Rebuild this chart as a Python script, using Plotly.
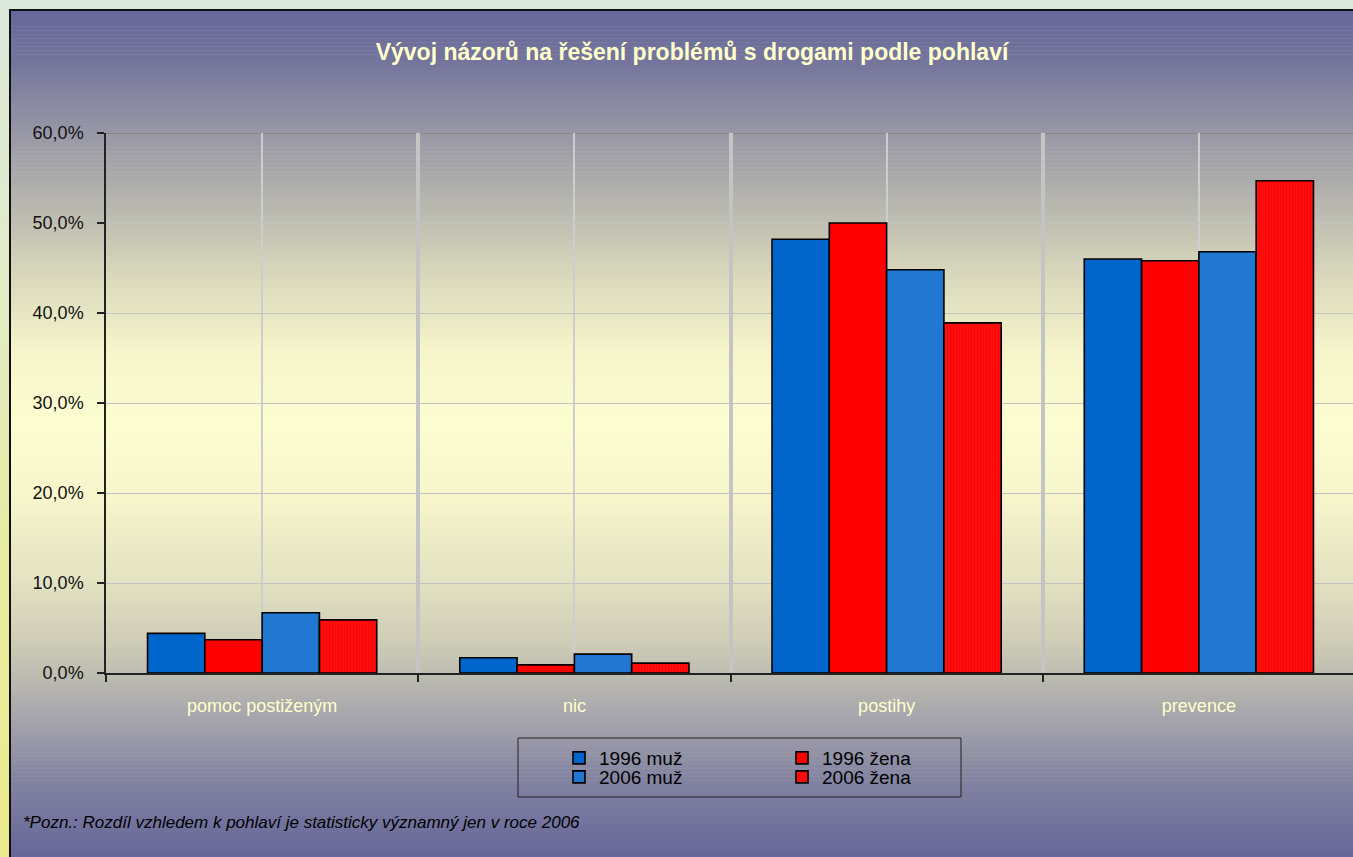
import plotly.graph_objects as go

categories = ["pomoc postiženým", "nic", "postihy", "prevence"]
series_names = ["1996 muž", "1996 žena", "2006 muž", "2006 žena"]
muz_1996 = [4.4, 1.7, 48.2, 46.0]
zena_1996 = [3.7, 0.9, 50.0, 45.8]
muz_2006 = [6.7, 2.1, 44.8, 46.8]
zena_2006 = [5.9, 1.1, 38.9, 54.7]
y_ticks = [0, 10, 20, 30, 40, 50, 60]
y_tick_labels = ["0,0%", "10,0%", "20,0%", "30,0%", "40,0%", "50,0%", "60,0%"]

title_text = "Vývoj názorů na řešení problémů s drogami podle pohlaví"
note_text = "*Pozn.: Rozdíl vzhledem k pohlaví je statisticky významný jen v roce 2006"

W, H = 1353, 857
L, T, R, B = 106, 133, 1353, 673  # plot area in px
PW, PH = R - L, B - T


def px2x(px):
    return (px - L) / PW


def py2y(py):
    return (B - py) / PH


def hex2rgb(h):
    h = h.lstrip("#")
    return tuple(int(h[i:i + 2], 16) for i in (0, 2, 4))


def interp(stops, p):
    for (p0, c0), (p1, c1) in zip(stops, stops[1:]):
        if p0 <= p <= p1:
            t = 0 if p1 == p0 else (p - p0) / (p1 - p0)
            a, b = hex2rgb(c0), hex2rgb(c1)
            return "rgb(%d,%d,%d)" % tuple(round(a[i] + (b[i] - a[i]) * t) for i in range(3))
    return stops[-1][1]


shapes = []
# outer background gradient
outer_stops = [(0, "#dce8dc"), (300, "#e3ecc6"), (550, "#e7eca2"), (857, "#eaea8c")]
n = 60
for i in range(n):
    y0 = i * H / n
    y1 = (i + 1) * H / n + 0.5
    shapes.append(dict(type="rect", xref="paper", yref="paper", layer="below",
                       x0=px2x(-2), x1=px2x(W + 5), y0=py2y(y0 - (2 if i == 0 else 0)), y1=py2y(y1),
                       fillcolor=interp(outer_stops, (y0 + y1) / 2), line_width=0))
# inner frame gradient
inner_stops = [(10, "#66669a"), (60, "#74749c"), (133, "#9797a6"), (200, "#b5b4ae"),
               (280, "#dbdabd"), (350, "#f5f4ca"), (420, "#fdfdd2"), (500, "#f6f5cc"),
               (580, "#e3e2c2"), (640, "#cfcdb7"), (680, "#bbbab0"), (720, "#a5a4ac"),
               (780, "#8383a2"), (857, "#66669a")]
n = 210
top = 10
for i in range(n):
    y0 = top + i * (H - top) / n
    y1 = top + (i + 1) * (H - top) / n + 0.5
    shapes.append(dict(type="rect", xref="paper", yref="paper", layer="below",
                       x0=px2x(10), x1=px2x(W + 5), y0=py2y(y0), y1=py2y(y1),
                       fillcolor=interp(inner_stops, (y0 + y1) / 2), line_width=0))
# frame border
shapes.append(dict(type="rect", xref="paper", yref="paper", layer="below",
                   x0=px2x(10), x1=px2x(W + 20), y0=py2y(10), y1=py2y(H + 20),
                   fillcolor="rgba(0,0,0,0)", line=dict(color="#111111", width=2)))
# top border line of plot area
shapes.append(dict(type="line", xref="paper", yref="y", layer="below",
                   x0=0, x1=1, y0=60, y1=60, line=dict(color="#858585", width=2)))
# legend box
shapes.append(dict(type="rect", xref="paper", yref="paper", layer="above",
                   x0=px2x(518), x1=px2x(961), y0=py2y(738), y1=py2y(797),
                   fillcolor="rgba(0,0,0,0)", line=dict(color="#222222", width=1)))

xs = list(range(len(categories)))
colors = ["#0066cc", "#ff0000", "#2078d2", "#ff0a0a"]
values = [muz_1996, zena_1996, muz_2006, zena_2006]
patterns = [None, None,
            dict(shape="|", fgcolor="#1a6dc4", bgcolor="#2179d3", size=3, solidity=0.25),
            dict(shape="|", fgcolor="#e80000", bgcolor="#ff0d0d", size=3, solidity=0.25)]
legend_ids = ["legend", "legend2", "legend3", "legend4"]
legend_pos = [(575, 758), (798, 758), (575, 777), (798, 777)]

fig = go.Figure()
for name, vals, col, pat, lid in zip(series_names, values, colors, patterns, legend_ids):
    marker = dict(color=col, line=dict(color="#000000", width=1.6))
    if pat:
        marker["pattern"] = pat
    fig.add_trace(go.Bar(x=xs, y=vals, name=name, marker=marker, legend=lid))

font_family = "Liberation Sans, Arial, sans-serif"
legend_common = dict(bgcolor="rgba(0,0,0,0)", borderwidth=0,
                     font=dict(family=font_family, size=19, color="#000000"),
                     xanchor="left", yanchor="middle", itemwidth=30)
layout_legends = {}
for lid, (lx, ly) in zip(legend_ids, legend_pos):
    layout_legends[lid] = dict(legend_common, x=px2x(lx - 16), y=py2y(ly))

fig.update_layout(
    width=W, height=H,
    margin=dict(l=L, r=0, t=T, b=H - B, pad=0),
    paper_bgcolor="#e4ebc0",
    plot_bgcolor="rgba(0,0,0,0)",
    separators=", ",
    barmode="group",
    bargap=0.266,
    bargroupgap=0,
    showlegend=True,
    shapes=shapes,
    title=dict(text="<b>" + title_text + "</b>", x=692 / W, xanchor="center",
               y=1 - 52 / H, yanchor="middle",
               font=dict(family=font_family, size=23, color="#ffffcc")),
    annotations=[dict(text="<i>" + note_text + "</i>", xref="paper", yref="paper",
                      x=px2x(21), y=py2y(822), xanchor="left", yanchor="middle",
                      showarrow=False,
                      font=dict(family=font_family, size=17, color="#000000"))],
    xaxis=dict(range=[-0.5, 3.5 - 2 / 312], tickmode="array", tickvals=xs, ticktext=categories,
               ticks="", showgrid=True, gridcolor="#cdcdcd", gridwidth=2,
               showline=True, linecolor="#222222", linewidth=1.5,
               zeroline=False, ticklabelstandoff=16,
               tickfont=dict(family=font_family, size=18, color="#ffffcc"),
               minor=dict(tickmode="array", tickvals=[-0.5, 0.5, 1.5, 2.5, 3.5],
                          ticks="outside", ticklen=7, tickcolor="#222222", tickwidth=1.5,
                          showgrid=True, gridcolor="#c4c4c4", gridwidth=4),
               fixedrange=True),
    yaxis=dict(range=[0, 60], tickmode="array", tickvals=y_ticks, ticktext=y_tick_labels,
               ticks="outside", ticklen=7, tickcolor="#222222", tickwidth=1.5,
               showline=True, linecolor="#222222", linewidth=1.5,
               showgrid=True, gridcolor="#c2c2c2", gridwidth=1, zeroline=False,
               ticklabelstandoff=10,
               tickfont=dict(family=font_family, size=18, color="#111111"),
               fixedrange=True),
    **layout_legends,
)

fig.write_html("out.html", config={"displayModeBar": False},
               post_script="document.body.style.margin='0px';")
